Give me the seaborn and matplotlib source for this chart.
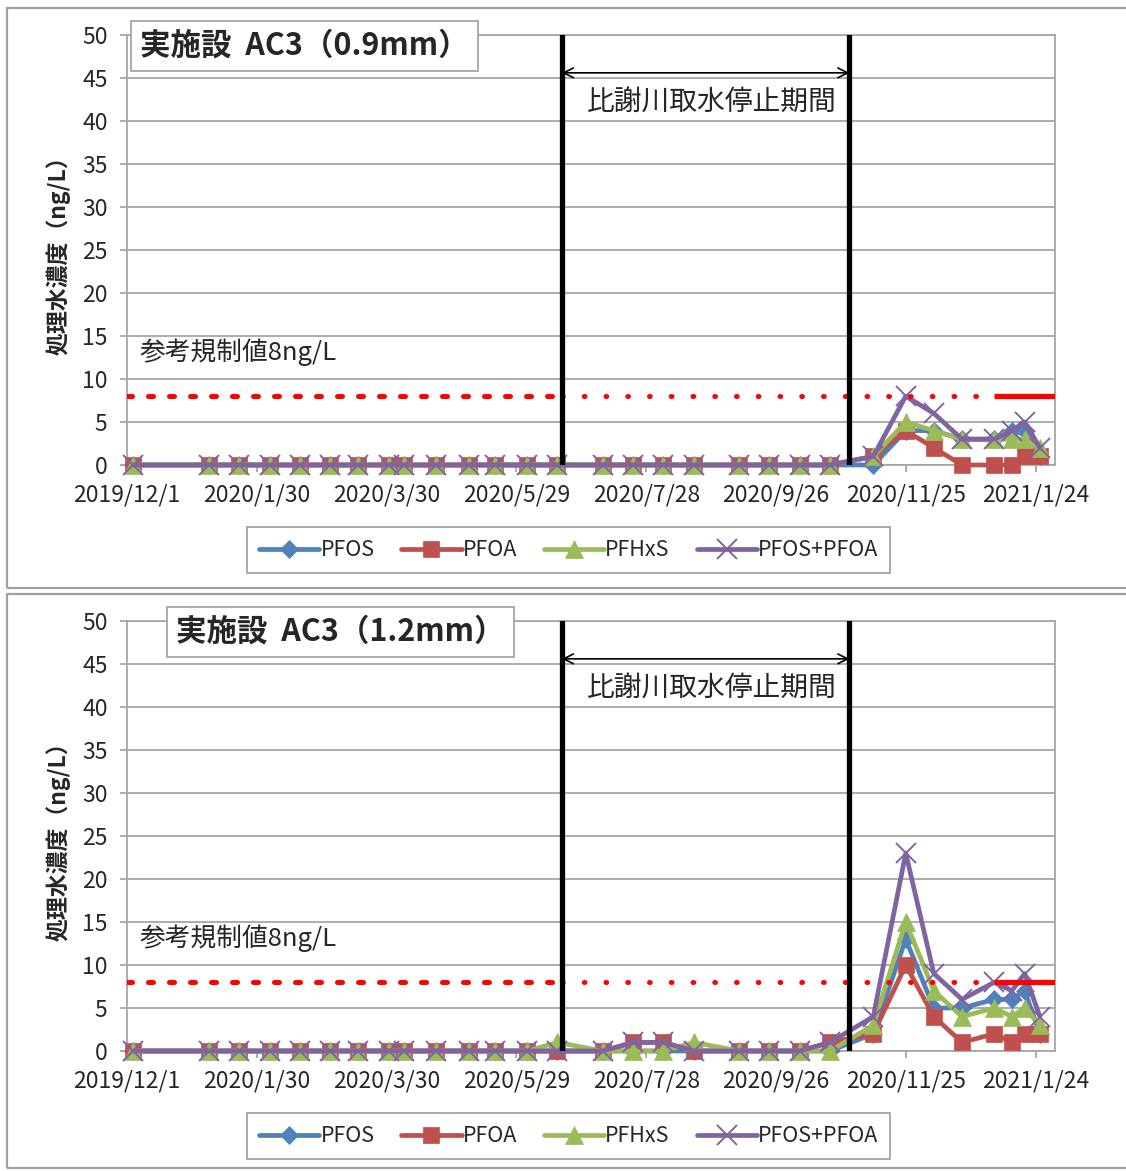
import pandas as pd
import matplotlib
matplotlib.use("Agg")
import matplotlib.pyplot as plt
from matplotlib.patches import Rectangle
import seaborn as sns

# ---- data -------------------------------------------------------------
sample_dates = [
    "2019-12-04", "2020-01-08", "2020-01-22", "2020-02-05", "2020-02-19",
    "2020-03-04", "2020-03-17", "2020-03-31", "2020-04-07", "2020-04-22",
    "2020-05-07", "2020-05-19", "2020-06-03", "2020-06-17", "2020-07-08",
    "2020-07-22", "2020-08-05", "2020-08-19", "2020-09-09", "2020-09-23",
    "2020-10-07", "2020-10-21", "2020-11-10", "2020-11-25", "2020-12-08",
    "2020-12-21", "2021-01-05", "2021-01-13", "2021-01-19", "2021-01-26",
]

# AC3 (0.9mm)
pfos_09 = [0] * 22 + [0, 4, 4, 3, 3, 4, 4, 1]
pfoa_09 = [0] * 22 + [1, 4, 2, 0, 0, 0, 1, 1]
pfhxs_09 = [0] * 22 + [1, 5, 4, 3, 3, 3, 3, 2]
sum_09 = [0] * 22 + [1, 8, 6, 3, 3, 4, 5, 2]

# AC3 (1.2mm)
pfos_12 = [0] * 13 + [0, 0, 0, 0, 0, 0, 0, 0, 0] + [2, 13, 5, 5, 6, 6, 7, 2]
pfoa_12 = [0] * 13 + [0, 0, 1, 1, 0, 0, 0, 0, 1] + [2, 10, 4, 1, 2, 1, 2, 2]
pfhxs_12 = [0] * 13 + [1, 0, 0, 0, 1, 0, 0, 0, 0] + [3, 15, 7, 4, 5, 4, 5, 3]
sum_12 = [0] * 13 + [0, 0, 1, 1, 0, 0, 0, 0, 1] + [4, 23, 9, 6, 8, 7, 9, 4]

series_names = ["PFOS", "PFOA", "PFHxS", "PFOS+PFOA"]
panel_titles = ["実施設  AC3（0.9mm）", "実施設  AC3（1.2mm）"]

tick_dates = ["2019-12-01", "2020-01-30", "2020-03-30", "2020-05-29",
              "2020-07-28", "2020-09-26", "2020-11-25", "2021-01-24"]
tick_labels = ["2019/12/1", "2020/1/30", "2020/3/30", "2020/5/29",
               "2020/7/28", "2020/9/26", "2020/11/25", "2021/1/24"]
x_range = ["2019-12-01", "2021-02-02"]

stop_period = ["2020-06-19", "2020-10-30"]
stop_label = "比謝川取水停止期間"
limit_value = 8
limit_label = "参考規制値8ng/L"
limit_solid_from = "2021-01-05"
y_label = "処理水濃度（ng/L）"

# ---- style ------------------------------------------------------------
sns.set_style("white")
plt.rcParams["font.family"] = ["Noto Sans CJK JP", "DejaVu Sans"]

colors = ["#4F81BD", "#C0504D", "#9BBB59", "#8064A2"]
markers = ["D", "s", "^", "x"]
msizes = [9, 12, 13, 14]
grid_c = "#A6A6A6"

W, H = 1126, 1171
fig = plt.figure(figsize=(W / 100, H / 100), dpi=100)

dates = pd.to_datetime(sample_dates)
xt = pd.to_datetime(tick_dates)
x0, x1 = pd.to_datetime(x_range)
s0, s1 = pd.to_datetime(stop_period)
solid0 = pd.to_datetime(limit_solid_from)


def px_axes(left, top, right, bottom):
    return [left / W, 1 - bottom / H, (right - left) / W, (bottom - top) / H]


panels = [
    (px_axes(127, 35, 1055, 465), [pfos_09, pfoa_09, pfhxs_09, sum_09], (7, 8, 1140, 588)),
    (px_axes(127, 621, 1055, 1051), [pfos_12, pfoa_12, pfhxs_12, sum_12], (7, 594, 1140, 1168)),
]

for i, (rect, vals, frame) in enumerate(panels):
    # outer chart frame
    fl, ft, fr, fb = frame
    fig.patches.append(Rectangle((fl / W, 1 - fb / H), (fr - fl) / W, (fb - ft) / H,
                                 transform=fig.transFigure, fill=False,
                                 edgecolor="#A0A0A0", lw=1.6))

    ax = fig.add_axes(rect)
    for name, v, c, m, ms in zip(series_names, vals, colors, markers, msizes):
        sns.lineplot(x=dates, y=v, ax=ax, color=c, lw=3.4, marker=m,
                     markersize=ms, markeredgecolor=c,
                     markeredgewidth=1.4 if m == "x" else 0.5,
                     label=name, zorder=3, clip_on=False)

    # regulation reference line: dashed / dotted / solid sections
    ax.plot([x0, s0], [limit_value] * 2, color="red", lw=3.6,
            dashes=(1.0, 3.2), dash_capstyle="round", zorder=4)
    ax.plot([s0, solid0], [limit_value] * 2, color="red", lw=3.6,
            dashes=(0.15, 4.2), dash_capstyle="round", zorder=4)
    ax.plot([solid0, x1], [limit_value] * 2, color="red", lw=3.8,
            solid_capstyle="butt", zorder=4)

    # intake stop period
    for d in (s0, s1):
        ax.axvline(d, color="black", lw=3.8, zorder=5)
    ax.annotate("", xy=(s0, 45.6), xytext=(s1, 45.6),
                arrowprops=dict(arrowstyle="<->,head_length=0.7,head_width=0.35",
                                color="black", lw=1.2, shrinkA=0, shrinkB=0),
                zorder=6)
    ax.text(s0 + (s1 - s0) / 2 + pd.Timedelta(days=3), 42.2, stop_label,
            ha="center", va="center", fontsize=20)

    ax.text(0.014, 0.263, limit_label, transform=ax.transAxes,
            ha="left", va="center", fontsize=18.5)

    ax.text(0.014 if i == 0 else 0.053, 0.975, panel_titles[i],
            transform=ax.transAxes, ha="left", va="center",
            fontsize=22, fontweight="bold", zorder=10,
            bbox=dict(boxstyle="square,pad=0.3", facecolor="white",
                      edgecolor=grid_c, lw=1.3))

    ax.set_xlim(x0, x1)
    ax.set_ylim(0, 50)
    ax.set_yticks(range(0, 51, 5))
    ax.set_xticks(xt)
    ax.set_xticklabels(tick_labels)
    ax.grid(axis="y", color=grid_c, lw=1.3)
    ax.grid(axis="x", visible=False)
    for sp in ax.spines.values():
        sp.set_color(grid_c)
        sp.set_linewidth(1.3)
    ax.tick_params(axis="both", which="major", labelsize=16.5, color=grid_c,
                   length=5, width=1.3, direction="out", left=True, bottom=True)
    ax.tick_params(axis="y", pad=9)
    ax.tick_params(axis="x", pad=8)
    ax.set_xlabel("")
    ax.set_ylabel(y_label, fontsize=16.5, fontweight="bold", labelpad=8)

    ax.legend(loc="center", bbox_to_anchor=(0.476, -0.198), ncol=4,
              fontsize=15.5, frameon=True, fancybox=False, edgecolor="#8C8C8C",
              handlelength=2.8, handletextpad=0.05, columnspacing=1.25,
              borderpad=0.55, borderaxespad=0)
    leg = ax.get_legend()
    leg.get_frame().set_linewidth(1.3)

fig.savefig("out.png", dpi=100, facecolor="white")
